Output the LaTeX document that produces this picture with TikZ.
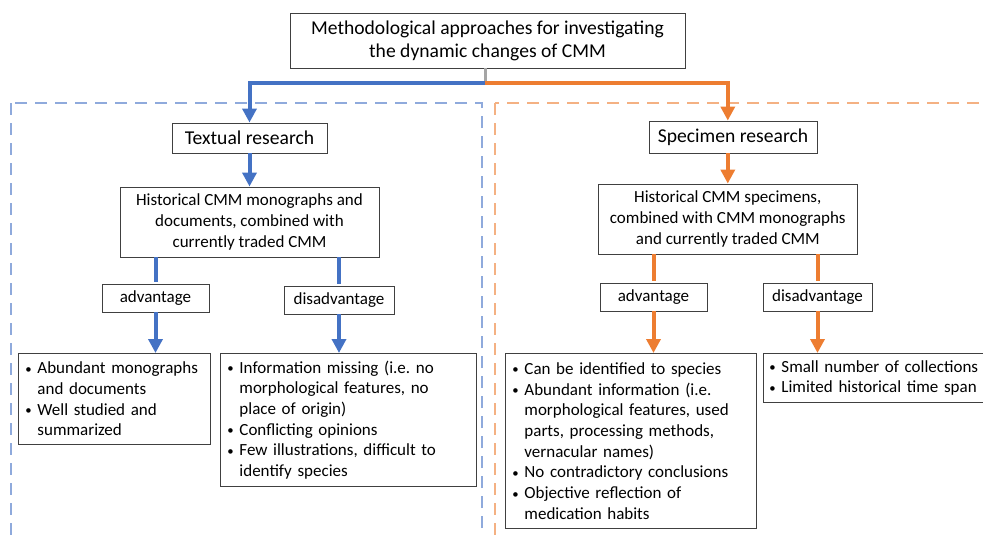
\documentclass[tikz,border=0pt]{standalone}
\usepackage{fontspec}
\setmainfont{Carlito}
\usetikzlibrary{arrows.meta,calc}
\definecolor{cblue}{HTML}{4472C4}
\definecolor{corange}{HTML}{ED7D31}
\definecolor{lblue}{HTML}{8FAADC}
\definecolor{lorange}{HTML}{F4B183}
\definecolor{cgray}{HTML}{A5A5A5}
\definecolor{bord}{HTML}{404040}
\newcommand{\bl}{\makebox[12pt][l]{\raisebox{0.5pt}{\scalebox{0.75}{\textbullet}}}}
\newcommand{\ind}{\makebox[12pt]{}}
\frenchspacing
\begin{document}
\begin{tikzpicture}[x=1pt,y=-1pt,
  box/.style={draw=bord, line width=0.9pt, fill=white, inner sep=0pt, align=center,
    font=\fontsize{17}{20.7}\selectfont\frenchspacing},
  head/.style={box, font=\fontsize{19.6}{23}\selectfont},
  listbox/.style={box, align=left, anchor=north west, inner xsep=7pt, inner ysep=0pt},
  barr/.style={cblue, line width=4pt, -{Triangle[width=14pt,length=14pt]}},
  oarr/.style={corange, line width=4pt, -{Triangle[width=14pt,length=14pt]}},
  bstem/.style={cblue, line width=4pt},
  ostem/.style={corange, line width=4pt},
  frameb/.style={lblue, line width=2pt, dash pattern=on 12pt off 8pt},
  frameo/.style={lorange, line width=2pt, dash pattern=on 12pt off 8pt}]
\useasboundingbox (0,0) rectangle (983,535);
\begin{scope}
\clip (0,0) rectangle (983,535);
\draw[frameb] (11,103) rectangle (482,560);
\draw[frameo] (495,103) rectangle (1010,560);

\node[head, minimum width=395pt, minimum height=55pt] (title) at (487.5,40.5)
  {Methodological approaches for investigating\\the dynamic changes of CMM};

% blue side
\node[head, minimum width=155pt, minimum height=30pt] (tr) at (249.5,138) {Textual research};
\node[box, minimum width=259pt, minimum height=70pt] (hist) at (249.5,222)
  {Historical CMM monographs and\\documents, combined with\\currently traded CMM};
\node[box, minimum width=107pt, minimum height=28pt] (advL) at (155.5,298) {advantage};
\node[box, minimum width=110pt, minimum height=28pt] (disL) at (339,300) {disadvantage};
\node[listbox, text width=178pt, minimum height=91pt] (listL) at (18,353)
  {\bl Abundant monographs\\\ind and documents\\\bl Well studied and\\\ind summarized};
\node[listbox, text width=242pt, minimum height=133pt] (listL2) at (220,353)
  {\bl Information missing (i.e.\ no\\\ind morphological features, no\\\ind place of origin)\\\bl Conflicting opinions\\\bl Few illustrations, difficult to\\\ind identify species};

% orange side
\node[head, minimum width=168pt, minimum height=32pt] (sr) at (733,137) {Specimen research};
\node[box, minimum width=259pt, minimum height=70pt] (hs) at (727.8,219)
  {Historical CMM specimens,\\combined with CMM monographs\\and currently traded CMM};
\node[box, minimum width=107pt, minimum height=28pt] (advR) at (653.5,297) {advantage};
\node[box, minimum width=109pt, minimum height=28pt] (disR) at (817.5,297) {disadvantage};
\node[listbox, text width=237pt, minimum height=175pt] (listR) at (505,353)
  {\bl Can be identified to species\\\bl Abundant information (i.e.\\\ind morphological features, used\\\ind parts, processing methods,\\\ind vernacular names)\\\bl No contradictory conclusions\\\bl Objective reflection of\\\ind medication habits};
\node[listbox, inner xsep=6pt, text width=207.5pt, minimum height=49pt] (listR2) at (763,353)
  {\mbox{\bl Small number of collections}\\\mbox{\bl Limited historical time span}};

% connectors
\coordinate (top) at ($(title.south)+(-2.5,0)$);
\coordinate (j) at ($(top)+(0,15)$);
\draw[cgray, line width=3pt] (top) -- (j);
\draw[barr] (j) -| (tr.north);
\draw[oarr] (j) -| (hs.north |- sr.north);
\draw[barr] (tr.south) -- (hist.north);
\draw[oarr] (hs.north |- sr.south) -- (hs.north);

\draw[bstem] (hist.south -| advL.north) -- ($(advL.north)+(0,-2)$);
\draw[bstem] (hist.south -| disL.north) -- ($(disL.north)+(0,-2)$);
\draw[ostem] (hs.south -| advR.north) -- ($(advR.north)+(0,-2)$);
\draw[ostem] (hs.south -| disR.north) -- ($(disR.north)+(0,-2)$);

\draw[barr] (advL.south) -- (advL.south |- listL.north);
\draw[barr] (disL.south) -- (disL.south |- listL2.north);
\draw[oarr] (advR.south) -- (advR.south |- listR.north);
\draw[oarr] (disR.south) -- (disR.south |- listR2.north);
\end{scope}
\end{tikzpicture}
\end{document}
